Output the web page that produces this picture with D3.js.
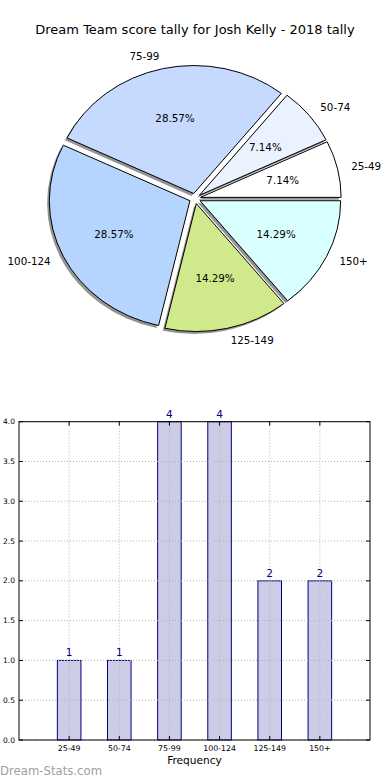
<!DOCTYPE html>
<html>
<head>
<meta charset="utf-8">
<script src="https://cdn.jsdelivr.net/npm/d3@7"></script>
<style>
  body { margin: 0; background: #fff; }
  svg { display: block; font-family: "DejaVu Sans", sans-serif; }
</style>
</head>
<body>
<div id="chart"></div>
<script>
// data
const categories = ["25-49", "50-74", "75-99", "100-124", "125-149", "150+"];
const counts = [1, 1, 4, 4, 2, 2];
const sliceColors = ["#ffffff", "#ebf2ff", "#c6d9ff", "#b5d5ff", "#d0ea8b", "#daffff"];
const yTicks = [0, 0.5, 1, 1.5, 2, 2.5, 3, 3.5, 4];
const titleText = "Dream Team score tally for Josh Kelly - 2018 tally";

const W = 390, H = 780;
const svg = d3.select("#chart").append("svg")
  .attr("width", W)
  .attr("height", H);

// ---- pie ----
const cx = 195, cy = 198.5, rx = 140.6, ry = 128, explode = 0.04;

svg.append("text")
  .attr("x", W / 2)
  .attr("y", 34)
  .attr("text-anchor", "middle")
  .style("font-size", "13px")
  .text(titleText);

// matplotlib style: start at 3 o'clock, go counter-clockwise
const pie = d3.pie().sort(null).startAngle(Math.PI / 2).endAngle(Math.PI / 2 - 2 * Math.PI);
const arcs = pie(counts);
const arc = d3.arc().innerRadius(0).outerRadius(1);
const total = d3.sum(counts);
const pct = d3.format(".2f");

const mid = d => (d.startAngle + d.endAngle) / 2;
const offX = (d, k) => k * rx * Math.sin(mid(d));
const offY = (d, k) => -k * ry * Math.cos(mid(d));

const pieG = svg.append("g");

// shadows first
pieG.selectAll("path.shadow")
  .data(arcs)
  .join("path")
  .attr("class", "shadow")
  .attr("d", arc)
  .attr("transform", d => `translate(${cx + offX(d, explode) - 2.2},${cy + offY(d, explode) + 2.4}) scale(${rx},${ry})`)
  .attr("fill", "#000")
  .attr("fill-opacity", 0.42)
  .attr("stroke", "none");

pieG.selectAll("path.wedge")
  .data(arcs)
  .join("path")
  .attr("class", "wedge")
  .attr("d", arc)
  .attr("transform", d => `translate(${cx + offX(d, explode)},${cy + offY(d, explode)}) scale(${rx},${ry})`)
  .attr("fill", (d, i) => sliceColors[i])
  .attr("stroke", "#000")
  .attr("stroke-width", 1)
  .attr("vector-effect", "non-scaling-stroke");

pieG.selectAll("text.label")
  .data(arcs)
  .join("text")
  .attr("class", "label")
  .attr("x", d => cx + offX(d, 1.1 + explode))
  .attr("y", d => cy + offY(d, 1.1 + explode))
  .attr("dy", "0.35em")
  .attr("text-anchor", d => Math.sin(mid(d)) > 0 ? "start" : "end")
  .style("font-size", "10.3px")
  .text((d, i) => categories[i]);

pieG.selectAll("text.pct")
  .data(arcs)
  .join("text")
  .attr("class", "pct")
  .attr("x", d => cx + offX(d, 0.6 + explode))
  .attr("y", d => cy + offY(d, 0.6 + explode))
  .attr("dy", "0.35em")
  .attr("text-anchor", "middle")
  .style("font-size", "10.3px")
  .text(d => pct(d.value / total * 100) + "%");

// ---- bar chart ----
const plotL = 19, plotR = 370, plotT = 421.7, plotB = 740;
const x = d3.scaleLinear().domain([-1, 6]).range([plotL, plotR]);
const y = d3.scaleLinear().domain([0, 4]).range([plotB, plotT]);
const barW = 0.47;

const barG = svg.append("g");

barG.selectAll("rect.bar")
  .data(counts)
  .join("rect")
  .attr("class", "bar")
  .attr("x", (d, i) => x(i - barW / 2))
  .attr("y", d => y(d))
  .attr("width", x(barW) - x(0))
  .attr("height", d => y(0) - y(d))
  .attr("fill", "#ccccE6")
  .attr("stroke", "#000080")
  .attr("stroke-width", 1);

// grid on top of bars
const grid = barG.append("g")
  .attr("stroke", "#b4b4b4")
  .attr("stroke-width", 1)
  .attr("stroke-dasharray", "1,2");
grid.selectAll("line.gy")
  .data(yTicks)
  .join("line")
  .attr("x1", plotL).attr("x2", plotR)
  .attr("y1", d => y(d)).attr("y2", d => y(d));
grid.selectAll("line.gx")
  .data(categories)
  .join("line")
  .attr("x1", (d, i) => x(i)).attr("x2", (d, i) => x(i))
  .attr("y1", plotT).attr("y2", plotB);

// inward ticks
const ticks = barG.append("g").attr("stroke", "#000").attr("stroke-width", 1);
yTicks.forEach(t => {
  ticks.append("line").attr("x1", plotL).attr("x2", plotL + 4).attr("y1", y(t)).attr("y2", y(t));
  ticks.append("line").attr("x1", plotR - 4).attr("x2", plotR).attr("y1", y(t)).attr("y2", y(t));
});
categories.forEach((c, i) => {
  ticks.append("line").attr("x1", x(i)).attr("x2", x(i)).attr("y1", plotB).attr("y2", plotB - 4);
  ticks.append("line").attr("x1", x(i)).attr("x2", x(i)).attr("y1", plotT).attr("y2", plotT + 4);
});

barG.append("rect")
  .attr("x", plotL).attr("y", plotT)
  .attr("width", plotR - plotL).attr("height", plotB - plotT)
  .attr("fill", "none")
  .attr("stroke", "#000")
  .attr("stroke-width", 1);

barG.selectAll("text.ytick")
  .data(yTicks)
  .join("text")
  .attr("class", "ytick")
  .attr("x", plotL - 4)
  .attr("y", d => y(d))
  .attr("dy", "0.35em")
  .attr("text-anchor", "end")
  .style("font-size", "7.5px")
  .text(d3.format(".1f"));

barG.selectAll("text.xtick")
  .data(categories)
  .join("text")
  .attr("class", "xtick")
  .attr("x", (d, i) => x(i))
  .attr("y", plotB + 11)
  .attr("text-anchor", "middle")
  .style("font-size", "7.8px")
  .text(d => d);

barG.selectAll("text.val")
  .data(counts)
  .join("text")
  .attr("class", "val")
  .attr("x", (d, i) => x(i))
  .attr("y", d => y(d) - 4)
  .attr("text-anchor", "middle")
  .attr("fill", "#000080")
  .style("font-size", "10.5px")
  .text(d => d);

svg.append("text")
  .attr("x", (plotL + plotR) / 2)
  .attr("y", 764)
  .attr("text-anchor", "middle")
  .style("font-size", "10.6px")
  .text("Frequency");

svg.append("text")
  .attr("x", 0)
  .attr("y", 775)
  .attr("fill", "#a0a0a0")
  .style("font-size", "11.7px")
  .text("Dream-Stats.com");
</script>
</body>
</html>
